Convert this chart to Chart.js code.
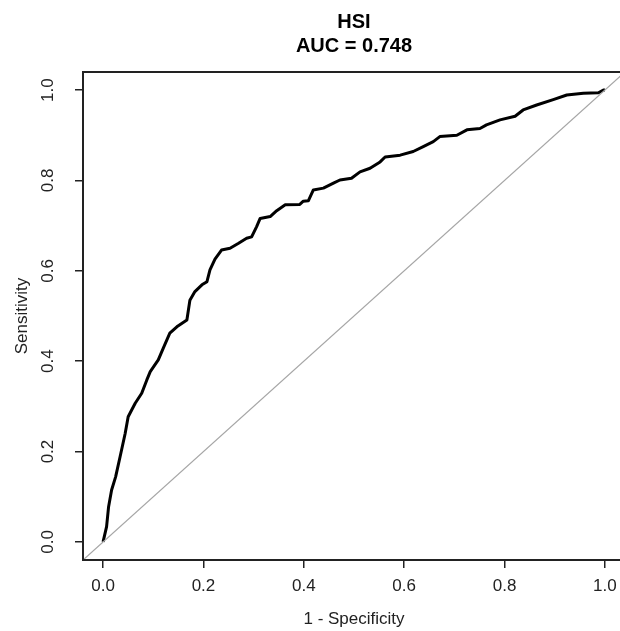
<!DOCTYPE html>
<html>
<head>
<meta charset="utf-8">
<script src="https://cdn.jsdelivr.net/npm/chart.js@4"></script>
<style>
  body { margin: 0; overflow: hidden; background: #fff; }
  #wrap { width: 626px; height: 631px; }
</style>
</head>
<body>
<div id="wrap"><canvas id="roc"></canvas></div>
<script>
// ROC curve for HSI
const fpr = [0, 0.007, 0.011, 0.017, 0.025, 0.034, 0.044, 0.050, 0.064, 0.077, 0.087,
  0.094, 0.110, 0.120, 0.133, 0.147, 0.167, 0.173, 0.183, 0.197, 0.207, 0.213,
  0.223, 0.236, 0.253, 0.270, 0.286, 0.296, 0.306, 0.313, 0.333, 0.346, 0.363,
  0.392, 0.399, 0.409, 0.419, 0.439, 0.459, 0.472, 0.495, 0.512, 0.532, 0.552,
  0.562, 0.592, 0.618, 0.638, 0.658, 0.671, 0.705, 0.725, 0.751, 0.764, 0.791,
  0.821, 0.837, 0.864, 0.897, 0.924, 0.957, 0.987, 0.997, 1];
const tpr = [0, 0.034, 0.078, 0.115, 0.144, 0.189, 0.240, 0.277, 0.307, 0.329, 0.358,
  0.377, 0.403, 0.429, 0.462, 0.476, 0.491, 0.535, 0.554, 0.569, 0.576, 0.602,
  0.626, 0.646, 0.650, 0.661, 0.672, 0.675, 0.698, 0.716, 0.720, 0.733, 0.746,
  0.747, 0.754, 0.755, 0.779, 0.783, 0.794, 0.801, 0.805, 0.819, 0.827, 0.841,
  0.852, 0.856, 0.864, 0.875, 0.886, 0.897, 0.900, 0.912, 0.915, 0.923, 0.934,
  0.942, 0.956, 0.967, 0.979, 0.989, 0.993, 0.994, 1.0, 1];
const diag = [-0.04, 1.04];
const tickVals = [0, 0.2, 0.4, 0.6, 0.8, 1.0];
const titleLines = ["HSI", "AUC = 0.748"];

const axisFont = { family: "Arial, 'Liberation Sans', sans-serif", size: 17 };

// R draws a full box round the plot region
const boxPlugin = {
  id: "box",
  afterDraw(chart) {
    const a = chart.chartArea;
    const c = chart.ctx;
    c.save();
    c.strokeStyle = "#222";
    c.lineWidth = 2;
    c.strokeRect(a.left, a.top, a.right - a.left, a.bottom - a.top);
    c.restore();
  }
};

const setTicks = s => { s.ticks = tickVals.map(v => ({ value: v })); };

new Chart(document.getElementById("roc"), {
  type: "scatter",
  data: {
    datasets: [
      {
        data: diag.map(v => ({ x: v, y: v })),
        showLine: true,
        borderColor: "#a6a6a6",
        borderWidth: 1.3,
        pointRadius: 0
      },
      {
        data: fpr.map((v, i) => ({ x: v, y: tpr[i] })),
        showLine: true,
        borderColor: "#000",
        borderWidth: 3,
        borderJoinStyle: "round",
        pointRadius: 0
      }
    ]
  },
  options: {
    responsive: true,
    maintainAspectRatio: false,
    animation: false,
    layout: { padding: { right: 1 } },
    plugins: {
      legend: { display: false },
      tooltip: { enabled: false },
      title: {
        display: true,
        fullSize: false,
        text: titleLines,
        color: "#000",
        font: { family: "Arial, 'Liberation Sans', sans-serif", size: 20, weight: "bold", lineHeight: 1.2 },
        padding: { top: 10, bottom: 14 }
      }
    },
    scales: {
      x: {
        type: "linear",
        min: -0.04,
        max: 1.04,
        afterBuildTicks: setTicks,
        afterFit: s => { s.height = 71; },
        grid: { drawOnChartArea: false, tickLength: 8, color: "#222", lineWidth: 1.5 },
        border: { display: false },
        ticks: { font: axisFont, color: "#222", padding: 8, maxRotation: 0,
          callback: v => v.toFixed(1) },
        title: { display: true, text: "1 - Specificity", font: axisFont, color: "#222",
          padding: { top: 0, bottom: 1 } }
      },
      y: {
        type: "linear",
        min: -0.04,
        max: 1.04,
        afterBuildTicks: setTicks,
        afterFit: s => { s.width = 83; },
        grid: { drawOnChartArea: false, tickLength: 8, color: "#222", lineWidth: 1.5 },
        border: { display: false },
        ticks: { font: axisFont, color: "#222", padding: 15, minRotation: 90, maxRotation: 90,
          crossAlign: "center", callback: v => v.toFixed(1) },
        title: { display: true, text: "Sensitivity", font: axisFont, color: "#222",
          padding: { top: 12, bottom: 0 } }
      }
    }
  },
  plugins: [boxPlugin]
});
</script>
</body>
</html>
